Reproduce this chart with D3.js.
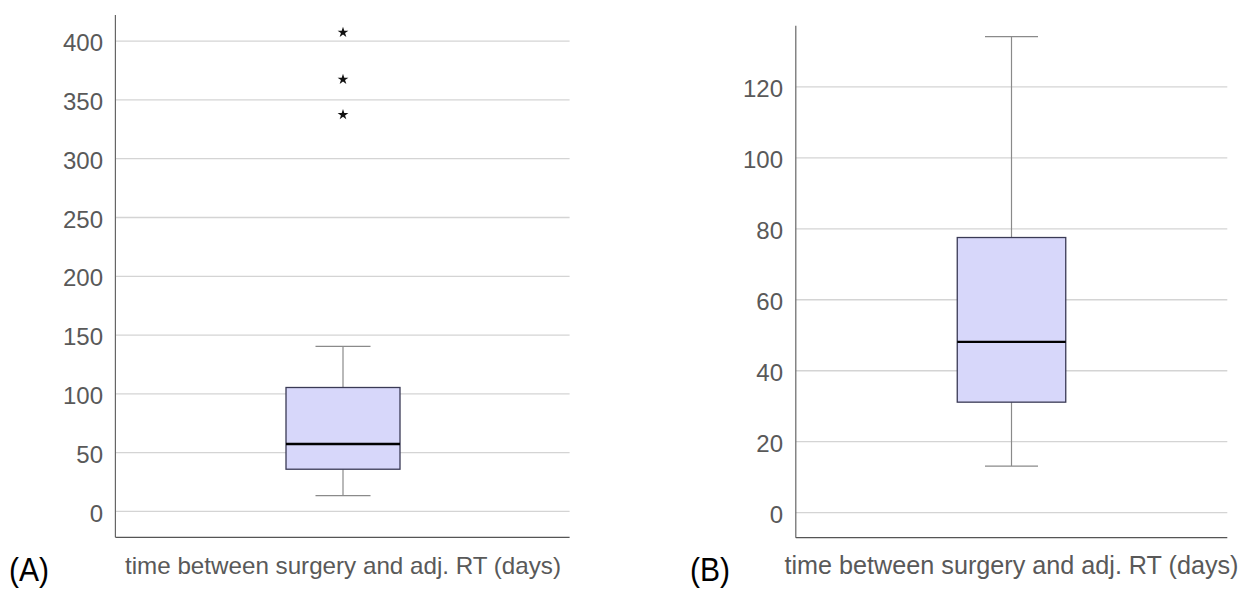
<!DOCTYPE html>
<html>
<head>
<meta charset="utf-8">
<script src="https://cdn.jsdelivr.net/npm/d3@7"></script>
<style>
  html, body { margin: 0; padding: 0; background: #fff; }
  svg { display: block; font-family: Arial, "Liberation Sans", Helvetica, sans-serif; }
</style>
</head>
<body>
<svg id="chart" width="1240" height="589"></svg>
<script>
// ---- data ----
const panelLabels = ["(A)", "(B)"];
const axisTitle = "time between surgery and adj. RT (days)";
const ticksA = [0, 50, 100, 150, 200, 250, 300, 350, 400];
const ticksB = [0, 20, 40, 60, 80, 100, 120];
// box stats: [lowerWhisker, q1, median, q3, upperWhisker]
const statsA = [13, 35.5, 57, 105, 140];
const statsB = [13, 31, 48, 77.4, 134];
const outliersA = [337, 367, 407];
const outliersB = [];

const svg = d3.select("#chart");

function drawPanel(cfg) {
  const g = svg.append("g");
  const y = d3.scaleLinear().domain(cfg.domain).range([cfg.bottom, cfg.top]);
  const cx = cfg.boxCenter;

  // gridlines + tick labels via axis
  const axis = d3.axisLeft(y).tickValues(cfg.ticks).tickSize(-(cfg.right - cfg.left)).tickPadding(cfg.left - cfg.labelRight);
  const ag = g.append("g").attr("transform", `translate(${cfg.left},0)`).call(axis);
  ag.select(".domain").remove();
  ag.selectAll(".tick line").attr("stroke", "#d4d4d4").attr("stroke-width", 1.3);
  ag.selectAll(".tick text")
    .attr("fill", "#595959")
    .attr("font-size", 24)
    .attr("dy", "0.42em");

  // axis frame lines
  g.append("line").attr("x1", cfg.left).attr("x2", cfg.left).attr("y1", y(cfg.domain[1])).attr("y2", y(cfg.domain[0]))
    .attr("stroke", "#666").attr("stroke-width", 1.2);
  g.append("line").attr("x1", cfg.left).attr("x2", cfg.right).attr("y1", y(cfg.domain[0])).attr("y2", y(cfg.domain[0]))
    .attr("stroke", "#555").attr("stroke-width", 1.2);

  const s = cfg.stats;
  const bw = cfg.boxWidth, cw = cfg.capWidth;
  // whiskers
  g.append("line").attr("x1", cx).attr("x2", cx).attr("y1", y(s[0])).attr("y2", y(s[1])).attr("stroke", "#8a8a8a").attr("stroke-width", 1.2);
  g.append("line").attr("x1", cx).attr("x2", cx).attr("y1", y(s[3])).attr("y2", y(s[4])).attr("stroke", "#8a8a8a").attr("stroke-width", 1.2);
  g.append("line").attr("x1", cx - cw / 2).attr("x2", cx + cw / 2).attr("y1", y(s[0])).attr("y2", y(s[0])).attr("stroke", "#8a8a8a").attr("stroke-width", 1.2);
  g.append("line").attr("x1", cx - cw / 2).attr("x2", cx + cw / 2).attr("y1", y(s[4])).attr("y2", y(s[4])).attr("stroke", "#8a8a8a").attr("stroke-width", 1.2);
  // box
  g.append("rect").attr("x", cx - bw / 2).attr("width", bw)
    .attr("y", y(s[3])).attr("height", y(s[1]) - y(s[3]))
    .attr("fill", "#d7d7fa").attr("stroke", "#3a3a55").attr("stroke-width", 1.3);
  // median
  g.append("line").attr("x1", cx - bw / 2).attr("x2", cx + bw / 2).attr("y1", y(s[2])).attr("y2", y(s[2]))
    .attr("stroke", "#000").attr("stroke-width", 2.4);
  // outliers
  g.selectAll("path.out").data(cfg.outliers).join("path").attr("class", "out")
    .attr("transform", d => `translate(${cx},${y(d)})`)
    .attr("d", d3.symbol().type(d3.symbolStar).size(36))
    .attr("fill", "#111");

  // axis title
  g.append("text").attr("x", cx).attr("y", cfg.titleY).attr("text-anchor", "middle")
    .attr("fill", "#595959").attr("font-size", cfg.titleSize)
    .attr("textLength", cfg.titleWidth).attr("lengthAdjust", "spacingAndGlyphs")
    .text(cfg.title);
  // panel label
  g.append("text").attr("x", cfg.panelX).attr("y", cfg.panelY)
    .attr("fill", "#000").attr("font-size", 34)
    .attr("textLength", 40).attr("lengthAdjust", "spacingAndGlyphs")
    .text(cfg.panelLabel);
}

drawPanel({
  title: axisTitle, panelLabel: panelLabels[0],
  domain: [-22.4, 421.8], bottom: 537.3, top: 15,
  left: 115.4, right: 569.6, labelRight: 103,
  ticks: ticksA, stats: statsA, outliers: outliersA,
  boxCenter: 343, boxWidth: 114, capWidth: 55,
  titleY: 574, titleSize: 24, titleWidth: 436,
  panelX: 9, panelY: 581
});

drawPanel({
  title: axisTitle, panelLabel: panelLabels[1],
  domain: [-7.2, 137.1], bottom: 537.7, top: 25.7,
  left: 795.8, right: 1227.3, labelRight: 783,
  ticks: ticksB, stats: statsB, outliers: outliersB,
  boxCenter: 1011.5, boxWidth: 108.5, capWidth: 53,
  titleY: 574, titleSize: 25, titleWidth: 454,
  panelX: 690, panelY: 581
});
</script>
</body>
</html>
